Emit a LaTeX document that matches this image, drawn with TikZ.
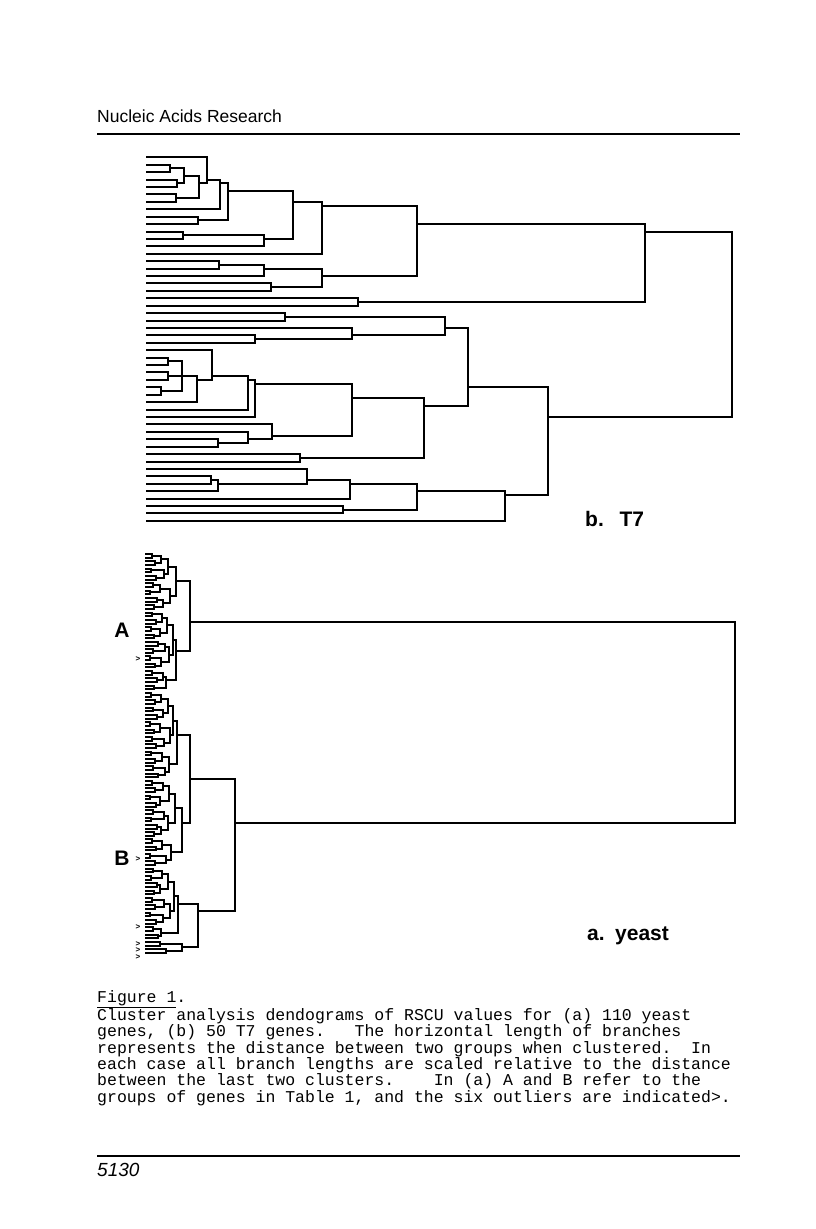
\documentclass[tikz,border=0pt]{standalone}
\usepackage{fontspec}
\setmainfont{Liberation Sans}
\newfontfamily\capfont{Liberation Mono}
\usetikzlibrary{positioning}

% one dendrogram merge: name, height x, two children, first and last leaf index
\newcommand{\dmerge}[6]{%
  \coordinate (#1) at (#2, {\dbase+\dstep*(#5+#6)/2});
  \draw[dline] (#3) -| (#1) (#4) -| (#1);}

\begin{document}
\begin{tikzpicture}[
    x=1pt, y=-1pt,
    dline/.style={line width=2pt, line join=miter},
    rule/.style={line width=2pt},
    lbl/.style={font=\fontsize{21}{21}\selectfont\bfseries, inner sep=0pt},
    outl/.style={font=\fontsize{8}{8}\selectfont\bfseries, inner sep=0pt},
    captext/.style={font=\capfont\fontsize{16.5}{16.3}\selectfont\frenchspacing,
                inner sep=0pt, align=left},
]
\useasboundingbox (0,0) rectangle (816,1229);

\node[font=\fontsize{17.5}{17.5}\selectfont, anchor=base west, inner sep=0pt]
  (journal) at (97,122) {Nucleic Acids Research};
\coordinate (hl) at (97,134);
\coordinate (hr) at (740,134);
\draw[rule] (hl) -- (hr);

% b. T7 (50 genes)
\def\dbase{157.3}\def\dstep{7.42}
\foreach \i in {0,...,49} \coordinate (t\i) at (146, {\dbase+\dstep*\i});
\foreach \n/\x/\a/\b/\i/\j in {
  a1/170/t1/t2/1/2, a2/176.7/t3/t4/3/4, a3/184.3/a1/a2/1/4, a4/176/t5/t6/5/6,
  a5/199.3/a3/a4/1/6, a6/206.7/t0/a5/0/6, a7/220/a6/t7/0/7, a8/198.3/t8/t9/8/9,
  a9/228.3/a7/a8/0/9, a10/183.3/t10/t11/10/11, a11/264/a10/t12/10/12,
  a12/293.3/a9/a11/0/12, a13/321.7/a12/t13/0/13, a14/219/t14/t15/14/15,
  a15/264/a14/t16/14/16, a16/271/t17/t18/17/18, a17/321.7/a15/a16/14/18,
  a18/416.7/a13/a17/0/18, a19/358.3/t19/t20/19/20, a20/645/a18/a19/0/20,
  b1/285/t21/t22/21/22, b2/255/t24/t25/24/25, b3/351.7/t23/b2/23/25,
  b4/445/b1/b3/21/25, b5/168.3/t27/t28/27/28, b6/168.3/t29/t30/29/30,
  b7/160.7/t31/t32/31/32, b8/181.7/b5/b6/27/30, b9/181.7/b8/b7/27/32,
  b10/197.3/b9/t33/27/33, b11/211.7/t26/b10/26/33, b12/248.3/b11/t34/26/34,
  b13/255/b12/t35/26/35, b14/218.3/t38/t39/38/39, b15/248.3/t37/b14/37/39,
  b16/271.7/t36/b15/36/39, b17/351.7/b13/b16/26/39, b18/300/t40/t41/40/41,
  b19/424/b17/b18/26/41, b20/467.7/b4/b19/21/41,
  c1/211/t43/t44/43/44, c2/218.3/c1/t45/43/45, c3/306.7/t42/c2/42/45,
  c4/350/c3/t46/42/46, c5/343.3/t47/t48/47/48, c6/416.7/c4/c5/42/48,
  c7/505/c6/t49/42/49, c8/548.3/b20/c7/21/49, troot/732.3/a20/c8/0/49}
  \dmerge{\n}{\x}{\a}{\b}{\i}{\j};
\node[lbl, anchor=base west] (t7lbl) at (585,526) {b.\hspace{0.75em}T7};

% a. yeast (110 genes)
\def\dbase{554}\def\dstep{3.66}
\foreach \i in {0,...,109} \coordinate (yl\i) at (145, {\dbase+\dstep*\i});
\foreach \k/\x in {0/152,1/155,2/151,3/156,4/153,5/150,6/157,7/154,8/152,9/156,
  10/151,11/154,12/158,13/153,14/150,15/155,16/152,17/157,18/154,19/151,20/155,
  21/153,22/157,23/150,24/154,25/152,26/156,27/151,28/155,29/153,30/158,31/152,
  32/155,33/150,34/156,35/153,36/151,37/157,38/154,39/152,40/156,41/150,42/155,
  43/153,44/151,45/157,46/154,47/152,48/155,49/150,50/156,51/153,52/158,53/160,
  54/166}
{
  \pgfmathtruncatemacro\i{2*\k}
  \pgfmathtruncatemacro\j{2*\k+1}
  \dmerge{yp\k}{\x}{yl\i}{yl\j}{\i}{\j}
}
\foreach \n/\x/\a/\b/\i/\j in {
  yq0/161/yp0/yp1/0/3, yq1/164/yp2/yp3/4/7, yq2/160/yp4/yp5/8/11,
  yq3/163/yp6/yp7/12/15, yr0/168/yq0/yq1/0/7, yr1/170/yq2/yq3/8/15,
  yA1/176/yr0/yr1/0/15,
  yq4/162/yp8/yp9/16/19, yq5/160/yp10/yp11/20/23, yq6/165/yp12/yp13/24/27,
  yq7/161/yp14/yp15/28/31, yq8/163/yp16/yp17/32/35, yr2/167/yq4/yq5/16/23,
  yr3/169/yq6/yq7/24/31, yr4/166/yq8/yp18/32/37, ys0/173/yr2/yr3/16/31,
  yA2/176/ys0/yr4/16/37, yA/190/yA1/yA2/0/37,
  yq9/161/yp19/yp20/38/41, yq10/163/yp21/yp22/42/45, yq11/160/yp23/yp24/46/49,
  yq12/164/yp25/yp26/50/53, yq13/162/yp27/yp28/54/57, yq14/165/yp29/yp30/58/61,
  yr5/168/yq9/yq10/38/45, yr6/170/yq11/yq12/46/53, yr7/169/yq13/yq14/54/61,
  ys1/173/yr5/yr6/38/53, yB1a/177/ys1/yr7/38/61,
  yq15/163/yp31/yp32/62/65, yq16/160/yp33/yp34/66/69, yq17/164/yp35/yp36/70/73,
  yq18/161/yp37/yp38/74/77, yq19/162/yp39/yp40/78/81, yq20/166/yp41/yp42/82/85,
  yr8/169/yq15/yq16/62/69, yr9/168/yq17/yq18/70/77, yr10/171/yq19/yq20/78/85,
  ys2/175/yr8/yr9/62/77, yB1b/182/ys2/yr10/62/85, yB1/190/yB1a/yB1b/38/85,
  yq21/162/yp43/yp44/86/89, yq22/160/yp45/yp46/90/93, yq23/164/yp47/yp48/94/97,
  yq24/163/yp49/yp50/98/101, yq25/161/yp51/yp52/102/105,
  yr11/168/yq21/yq22/86/93, yr12/170/yq23/yq24/94/101, ys3/174/yr11/yr12/86/101,
  yB2a/178/ys3/yq25/86/105, yB2b/182/yp53/yp54/106/109,
  yB2/198.3/yB2a/yB2b/86/109, yB/235/yB1/yB2/38/109, yroot/735/yA/yB/0/109}
  \dmerge{\n}{\x}{\a}{\b}{\i}{\j};
\node[lbl] (grpA) at (122,630) {A};
\node[lbl] (grpB) at (122,858) {B};
\foreach \v [count=\m] in {659,859,927,944,950.5,957}
  \node[outl] (o\m) at (138,\v) {>};
\node[lbl, anchor=base west] (yslbl) at (587,940) {a.\hspace{0.5em}yeast};

% caption
\node[captext, anchor=north west] (caption) at (97,990) {\underline{Figure 1}.\\
Cluster analysis dendograms of RSCU values for (a) 110 yeast\\
genes, (b) 50 T7 genes.\ \ \ The horizontal length of branches\\
represents the distance between two groups when clustered.\ \ In\\
each case all branch lengths are scaled relative to the distance\\
between the last two clusters.\ \ \ \ In (a) A and B refer to the\\
groups of genes in Table 1, and the six outliers are indicated>.};

\coordinate (fl) at (97,1156);
\coordinate (fr) at (740,1156);
\draw[rule] (fl) -- (fr);
\node[font=\fontsize{19}{19}\selectfont\itshape, inner sep=0pt,
      below right=20pt and 0pt of fl, anchor=base west] (pageno) {5130};
\end{tikzpicture}
\end{document}
